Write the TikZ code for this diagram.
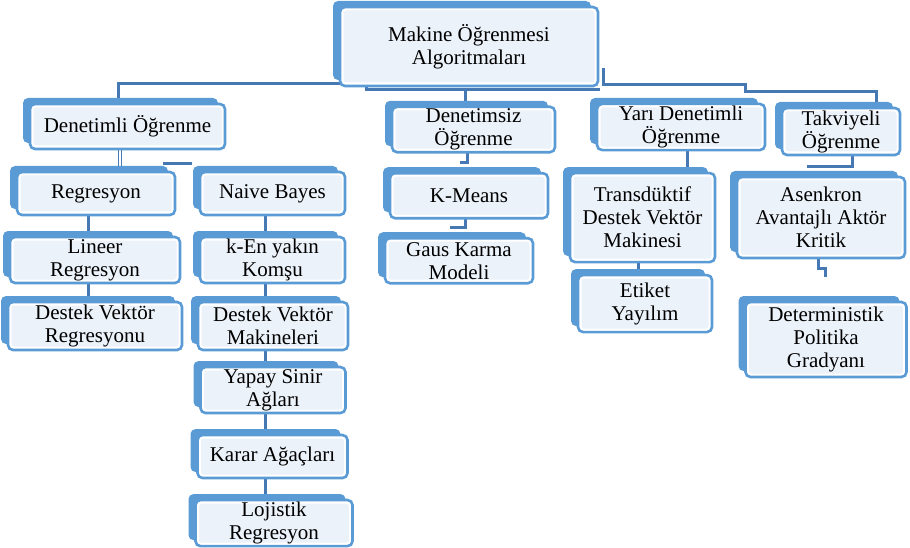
\documentclass[tikz,border=0pt]{standalone}
\usepackage{fontspec}
\setmainfont{Liberation Serif}
\usetikzlibrary{positioning, shadows}
\definecolor{boxback}{RGB}{91,155,213}
\definecolor{boxfill}{RGB}{236,242,250}
\definecolor{connblue}{RGB}{70,120,180}
\pgfdeclarelayer{background}
\pgfsetlayers{background,main}

\begin{document}
\begin{tikzpicture}
	% style
	[x=1pt, y=-1pt,
	algo/.style={rectangle, rounded corners=5pt, draw=boxback, line width=2.6pt, fill=boxfill, align=center, inner sep=2pt, outer sep=0pt, font=\fontsize{21}{23}\selectfont,
		path picture={\draw[white, line width=7pt, rounded corners=5pt] (path picture bounding box.north west) rectangle (path picture bounding box.south east);},
		general shadow={fill=boxback, shadow xshift=-7pt, shadow yshift=6pt}},
	conn/.style={draw=connblue, line width=3pt}]
	\useasboundingbox (0,0) rectangle (910,548);

	% kok
	\node [algo, minimum width=258pt, minimum height=79pt] (root) at (469,46.5) {Makine Öğrenmesi\\Algoritmaları};

	% denetimli
	\node [algo, minimum width=195pt, minimum height=45pt] (den) at (127.5,126.5) {Denetimli Öğrenme};
	\node [algo, minimum width=158pt, minimum height=43pt, xshift=-31.5pt] (regr) [below=23pt of den] {Regresyon};
	\node [algo, minimum width=170pt, minimum height=46pt, xshift=-1pt] (lineer) [below=22pt of regr] {Lineer\\Regresyon};
	\node [algo, minimum width=174pt, minimum height=48pt] (dvr) [below=19pt of lineer] {Destek Vektör\\Regresyonu};
	\node [algo, minimum width=145pt, minimum height=43pt] (naive) [right=25pt of regr] {Naive Bayes};
	\node [algo, minimum width=145pt, minimum height=46pt] (knn) [below=22pt of naive] {k-En yakın\\Komşu};
	\node [algo, minimum width=150pt, minimum height=48pt, xshift=0.5pt] (dvm) [below=19pt of knn] {Destek Vektör\\Makineleri};
	\node [algo, minimum width=145pt, minimum height=46pt] (ysa) [below=17pt of dvm] {Yapay Sinir\\Ağları};
	\node [algo, minimum width=150pt, minimum height=43pt, xshift=-0.5pt] (karar) [below=22pt of ysa] {Karar Ağaçları};
	\node [algo, minimum width=157pt, minimum height=45pt, xshift=1.5pt] (lojistik) [below=22pt of karar] {Lojistik\\Regresyon};

	% denetimsiz
	\node [algo, minimum width=163pt, minimum height=45pt] (densiz) at (473.5,129.5) {Denetimsiz\\Öğrenme};
	\node [algo, minimum width=158pt, minimum height=45pt, xshift=-4.5pt] (kmeans) [below=21pt of densiz] {K-Means};
	\node [algo, minimum width=148pt, minimum height=45pt, xshift=-10pt] (gaus) [below=20pt of kmeans] {Gaus Karma\\Modeli};

	% yari denetimli
	\node [algo, minimum width=168pt, minimum height=46pt] (yari) at (681,127) {Yarı Denetimli\\Öğrenme};
	\node [algo, minimum width=145pt, minimum height=89pt, xshift=-38.5pt] (tsvm) [below=23pt of yari] {Transdüktif\\Destek Vektör\\Makinesi};
	\node [algo, minimum width=134pt, minimum height=57pt, xshift=2.5pt] (etiket) [below=13pt of tsvm] {Etiket\\Yayılım};

	% takviyeli
	\node [algo, minimum width=118pt, minimum height=47pt] (takv) at (841,131.5) {Takviyeli\\Öğrenme};
	\node [algo, minimum width=168pt, minimum height=81pt, xshift=-20pt] (a3c) [below=22pt of takv] {Asenkron\\Avantajlı Aktör\\Kritik};
	\node [algo, minimum width=161pt, minimum height=75pt, xshift=5pt] (ddpg) [below=44pt of a3c] {Deterministik\\Politika\\Gradyanı};

	% baglantilar
	\begin{pgfonlayer}{background}
	\draw[conn] ([xshift=-9.5pt]den.north) |- ([yshift=2pt]root.south west);
	\draw[conn] ([xshift=-103pt]root.south) -- ++(0,4) -- ++(234,0);
	\draw[conn] ([xshift=-8.5pt]densiz.north) -- ([xshift=-8.5pt,yshift=-4pt]densiz.north |- root.south);
	\draw[conn] ([xshift=5pt,yshift=18pt]root.south east) -- ++(0,17) -- ++(142,0) -- ++(0,7) -| ([xshift=35pt]takv.north);
	\draw[conn, line width=1.5pt, double=white, double distance=1.6pt] ([xshift=-7.5pt]den.south) -- ([xshift=-7.5pt]den.south |- regr.north);
	\draw[conn] ([xshift=-8pt,yshift=8pt]naive.north west) -- ([xshift=-12pt,yshift=8pt]regr.north east);
	\draw[conn] ([xshift=-8pt]regr.south) -- ([xshift=-8pt]regr.south |- dvr.north);
	\draw[conn] ([xshift=-7.5pt]naive.south) -- ([xshift=-7.5pt]naive.south |- lojistik.north);
	\draw[conn] ([xshift=-6pt]densiz.south) |- ([xshift=-9pt,yshift=11pt]kmeans.north);
	\draw[conn] ([xshift=-4pt]kmeans.south) |- ([xshift=-9pt,yshift=11pt]gaus.north);
	\draw[conn] ([xshift=6pt]yari.south) -- ([xshift=6pt]yari.south |- tsvm.north);
	\draw[conn] ([xshift=-4.5pt]tsvm.south) -- ([xshift=-4.5pt]tsvm.south |- etiket.north);
	\draw[conn] ([xshift=11pt]takv.south) |- ([xshift=-14pt,yshift=10pt]a3c.north);
	\draw[conn] ([xshift=-3pt]a3c.south) -- ++(0,10) -| ([xshift=-1pt,yshift=25pt]ddpg.north);
	\end{pgfonlayer}
\end{tikzpicture}
\end{document}
